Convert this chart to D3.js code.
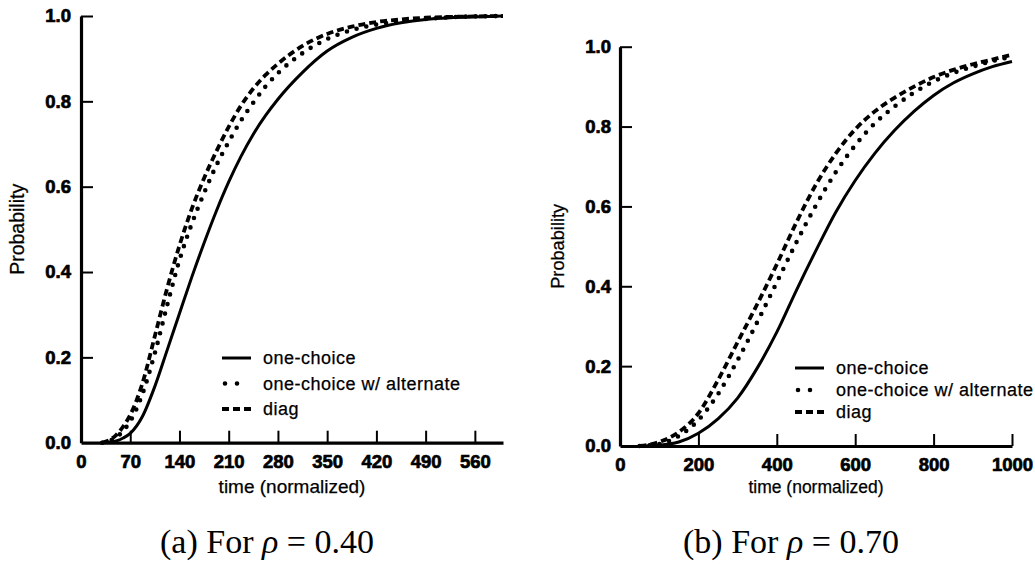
<!DOCTYPE html>
<html>
<head>
<meta charset="utf-8">
<script src="https://cdn.jsdelivr.net/npm/d3@7"></script>
<style>
  body { margin: 0; background: #fff; }
  .axTitle, .legText { font-family: "Liberation Sans", Arial, sans-serif; fill: #000; stroke: #000; stroke-width: 0.25px; }
  .caption { font-family: "Liberation Serif", "Times New Roman", serif; font-size: 34px; fill: #000; }
</style>
</head>
<body>
<svg width="1035" height="564"></svg>
<script>
// ---- data ----
seriesNames = ["one-choice", "one-choice w/ alternate", "diag"];

// (a) rho = 0.40
timeA = [30, 40, 50, 60, 70, 87.5, 105, 122.5, 140, 157.5, 175, 192.5, 210, 227.5, 245, 262.5, 280, 315, 350, 385, 420, 455, 490, 525, 560, 600];
oneChoiceA = [0, 0.001, 0.004, 0.011, 0.022, 0.062, 0.132, 0.217, 0.303, 0.388, 0.468, 0.543, 0.611, 0.671, 0.723, 0.767, 0.805, 0.868, 0.918, 0.95, 0.971, 0.984, 0.992, 0.996, 0.998, 1.0];
alternateA = [0, 0.004, 0.012, 0.028, 0.05, 0.115, 0.21, 0.322, 0.428, 0.513, 0.585, 0.65, 0.705, 0.755, 0.797, 0.835, 0.866, 0.913, 0.946, 0.967, 0.98, 0.988, 0.993, 0.997, 0.999, 1.0];
diagA = [0, 0.006, 0.018, 0.038, 0.065, 0.14, 0.25, 0.362, 0.462, 0.548, 0.62, 0.683, 0.74, 0.79, 0.83, 0.862, 0.888, 0.93, 0.958, 0.975, 0.986, 0.992, 0.996, 0.998, 0.999, 1.0];
xTicksA = [0, 70, 140, 210, 280, 350, 420, 490, 560];

// (b) rho = 0.70
timeB = [50, 100, 150, 200, 250, 300, 350, 400, 450, 500, 550, 600, 650, 700, 750, 800, 850, 900, 950, 1000];
oneChoiceB = [0, 0.002, 0.01, 0.032, 0.068, 0.12, 0.195, 0.285, 0.39, 0.49, 0.585, 0.665, 0.733, 0.79, 0.838, 0.878, 0.909, 0.932, 0.95, 0.963];
alternateB = [0, 0.005, 0.025, 0.065, 0.13, 0.215, 0.31, 0.41, 0.51, 0.603, 0.685, 0.753, 0.808, 0.85, 0.885, 0.913, 0.934, 0.95, 0.964, 0.975];
diagB = [0, 0.01, 0.035, 0.082, 0.165, 0.26, 0.355, 0.455, 0.56, 0.655, 0.732, 0.793, 0.838, 0.872, 0.9, 0.924, 0.942, 0.956, 0.968, 0.98];
xTicksB = [0, 200, 400, 600, 800, 1000];

yTicks = [0, 0.2, 0.4, 0.6, 0.8, 1.0];

// line styles: solid, dotted, dashed
styles = [
  { w: 3,   dash: null,    cap: "butt"  },
  { w: 4.6, dash: "0 10",  cap: "round" },
  { w: 3.8, dash: "7 4",   cap: "butt"  }
];

svg = d3.select("svg");

drawPanel({
  time: timeA, series: [oneChoiceA, alternateA, diagA], xTicks: xTicksA, xMax: 600,
  left: 81, right: 503, top: 16, bottom: 442.7, yPad: 10,
  yTitleX: 17, yTitleSize: 19.5, xTitleSize: 19,
  leg: { x: 222, y: 358, step: 25.5, dotX: [225, 237] },
  caption: "(a)", rho: "0.40"
});
drawPanel({
  time: timeB, series: [oneChoiceB, alternateB, diagB], xTicks: xTicksB, xMax: 1000,
  left: 620, right: 1012, top: 46.7, bottom: 446, yPad: 9,
  yTitleX: 558, yTitleSize: 18.2, xTitleSize: 17.5,
  leg: { x: 795, y: 368, step: 22, dotX: [798, 810] },
  caption: "(b)", rho: "0.70"
});

function drawPanel(p) {
  var x = d3.scaleLinear().domain([0, p.xMax]).range([p.left, p.right]);
  var y = d3.scaleLinear().domain([0, 1]).range([p.bottom, p.top]);
  var g = svg.append("g");

  // curves
  p.series.forEach(function(vals, i) {
    var line = d3.line()
        .x(function(d, k) { return x(p.time[k]); })
        .y(function(d) { return y(d); })
        .curve(d3.curveMonotoneX);
    g.append("path")
      .attr("d", line(vals))
      .attr("fill", "none")
      .attr("stroke", "#000")
      .attr("stroke-width", styles[i].w)
      .attr("stroke-linecap", styles[i].cap)
      .attr("stroke-dasharray", styles[i].dash);
  });

  // axes, ticks pointing inwards
  var ax = g.append("g")
      .attr("transform", "translate(0," + p.bottom + ")")
      .call(d3.axisBottom(x).tickValues(p.xTicks).tickSizeInner(-12).tickSizeOuter(0).tickPadding(12).tickFormat(d3.format("d")));
  var ay = g.append("g")
      .attr("transform", "translate(" + p.left + ",0)")
      .call(d3.axisLeft(y).tickValues(yTicks).tickSizeInner(-12).tickSizeOuter(0).tickPadding(p.yPad).tickFormat(d3.format(".1f")));
  [ax, ay].forEach(function(a) {
    a.attr("font-size", null).attr("font-family", null);
    a.select(".domain").attr("stroke", "#000").attr("stroke-width", 3.2);
    a.selectAll(".tick line").attr("stroke", "#000").attr("stroke-width", 2);
    a.selectAll(".tick text")
      .attr("fill", "#000")
      .attr("stroke", "#000")
      .attr("stroke-width", 0.7)
      .style("font-family", "'Liberation Sans', Arial, sans-serif")
      .style("font-weight", "bold")
      .style("font-size", "18.5px");
  });
  ax.selectAll(".tick").filter(function(d) { return d == 0; }).select("line").remove();
  ay.selectAll(".tick").filter(function(d) { return d == 0; }).select("line").remove();

  // titles
  g.append("text")
    .attr("class", "axTitle")
    .attr("x", (p.left + p.right) / 2)
    .attr("y", 493)
    .attr("text-anchor", "middle")
    .style("font-size", p.xTitleSize + "px")
    .text("time (normalized)");
  g.append("text")
    .attr("class", "axTitle")
    .attr("transform", "translate(" + [p.yTitleX, (p.top + p.bottom) / 2] + ") rotate(-90)")
    .attr("text-anchor", "middle")
    .attr("dy", "0.35em")
    .style("font-size", p.yTitleSize + "px")
    .text("Probability");

  // legend
  seriesNames.forEach(function(name, i) {
    var ly = p.leg.y + i * p.leg.step;
    var x1 = p.leg.x, x2 = p.leg.x + 29;
    if (i == 1) { x1 = p.leg.dotX[0]; x2 = p.leg.dotX[1] + 0.5; }
    g.append("line")
      .attr("x1", x1).attr("x2", x2).attr("y1", ly).attr("y2", ly)
      .attr("stroke", "#000")
      .attr("stroke-width", styles[i].w)
      .attr("stroke-linecap", styles[i].cap)
      .attr("stroke-dasharray", i == 1 ? "0 12" : styles[i].dash);
    g.append("text")
      .attr("class", "legText")
      .attr("x", p.leg.x + 41)
      .attr("y", ly)
      .attr("dy", "0.35em")
      .style("font-size", "18px")
      .style("letter-spacing", "0.5px")
      .text(name);
  });

  // caption
  var cap = svg.append("text")
    .attr("class", "caption")
    .attr("x", (p.left + p.right) / 2 - 25)
    .attr("y", 553)
    .attr("text-anchor", "middle");
  cap.append("tspan").text(p.caption + " For ");
  cap.append("tspan").style("font-style", "italic").text("\u03C1");
  cap.append("tspan").text(" = " + p.rho);
}
</script>
</body>
</html>
